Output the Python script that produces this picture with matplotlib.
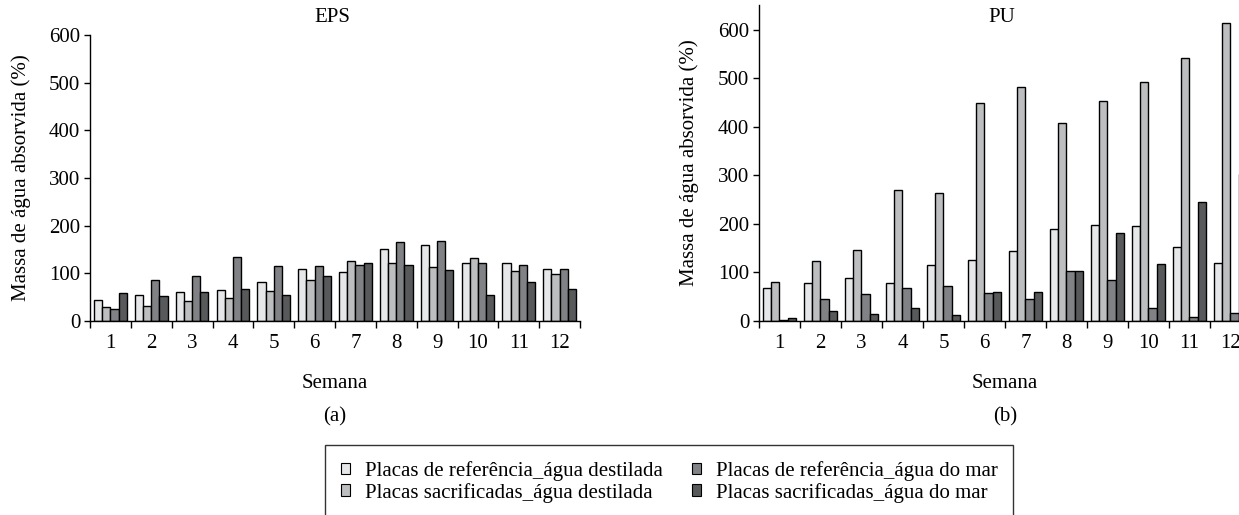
import matplotlib
matplotlib.use('Agg')
import matplotlib.pyplot as plt
from matplotlib.patches import Patch
import numpy as np

plt.rcParams['font.family'] = ['Liberation Serif', 'DejaVu Serif']

weeks = [str(i) for i in range(1, 13)]
series_labels = ["Placas de referência_água destilada",
                 "Placas sacrificadas_água destilada",
                 "Placas de referência_água do mar",
                 "Placas sacrificadas_água do mar"]
colors = ['#E6E7E8', '#BCBEC0', '#808285', '#58595B']

# EPS
eps_ref_dest = [44, 55, 60, 66, 82, 109, 102, 152, 159, 121, 121, 110]
eps_sac_dest = [30, 32, 43, 49, 63, 87, 126, 121, 113, 132, 104, 99]
eps_ref_mar = [26, 87, 94, 135, 115, 115, 118, 165, 168, 121, 118, 110]
eps_sac_mar = [58, 52, 60, 68, 55, 94, 121, 118, 107, 54, 82, 68]

# PU
pu_ref_dest = [67, 78, 88, 78, 115, 126, 144, 190, 198, 195, 152, 120]
pu_sac_dest = [80, 124, 146, 269, 264, 450, 483, 408, 454, 492, 541, 614]
pu_ref_mar = [3, 45, 56, 67, 72, 57, 45, 103, 84, 27, 8, 16]
pu_sac_mar = [7, 20, 15, 26, 12, 60, 59, 103, 182, 117, 245, 302]

W, H = 1239, 515
fig = plt.figure(figsize=(W / 100, H / 100), dpi=100)

ax1 = fig.add_axes([90 / W, (H - 321) / H, 490 / W, 286 / H])
ax2 = fig.add_axes([759 / W, (H - 321) / H, 492 / W, 316 / H])

x = np.arange(1, 13)
bw = 0.2
offsets = [-0.3, -0.1, 0.1, 0.3]
FS = 15

def draw(ax, data, ymax):
    for vals, off, c in zip(data, offsets, colors):
        ax.bar(x + off, vals, width=bw, color=c, edgecolor='black', linewidth=1.0, zorder=2)
    ax.set_xlim(0.5, 12.5)
    ax.set_ylim(0, ymax)
    ax.set_yticks([0, 100, 200, 300, 400, 500, 600])
    ax.set_xticks(x)
    ax.set_xticklabels(weeks)
    ax.set_xticks(np.arange(0.5, 13, 1), minor=True)
    ax.tick_params(axis='x', which='major', length=0, pad=9, labelsize=FS)
    ax.tick_params(axis='x', which='minor', length=5, width=1, direction='out')
    ax.tick_params(axis='y', length=4, width=1, pad=3, labelsize=FS)
    for s in ['top', 'right']:
        ax.spines[s].set_visible(False)
    for s in ['left', 'bottom']:
        ax.spines[s].set_linewidth(1)

draw(ax1, [eps_ref_dest, eps_sac_dest, eps_ref_mar, eps_sac_mar], 600)
draw(ax2, [pu_ref_dest, pu_sac_dest, pu_ref_mar, pu_sac_mar], 651)

def ft(px, py, s, **kw):
    fig.text(px / W, 1 - py / H, s, ha='center', va='center', **kw)

ft(332, 18, 'EPS', fontsize=FS)
ft(1002, 18, 'PU', fontsize=FS)
ft(21, 178, 'Massa de água absorvida (%)', fontsize=FS, rotation=90)
ft(689, 163, 'Massa de água absorvida (%)', fontsize=FS, rotation=90)
ft(335, 383, 'Semana', fontsize=FS)
ft(1005, 383, 'Semana', fontsize=FS)
ft(335, 417, '(a)', fontsize=FS)
ft(1005, 417, '(b)', fontsize=FS)

handles = [Patch(facecolor=c, edgecolor='black', linewidth=0.8) for c in colors]
leg = fig.legend(handles, series_labels, ncol=2, loc='upper left',
                 bbox_to_anchor=(325 / W, 1 - 445 / H), fontsize=FS,
                 frameon=True, fancybox=False, edgecolor='black',
                 handlelength=0.45, handleheight=0.45, handletextpad=0.7,
                 columnspacing=1.4, borderpad=0.75, labelspacing=0.1,
                 borderaxespad=0)
leg.get_frame().set_linewidth(1)

fig.savefig('out.png', dpi=100)
